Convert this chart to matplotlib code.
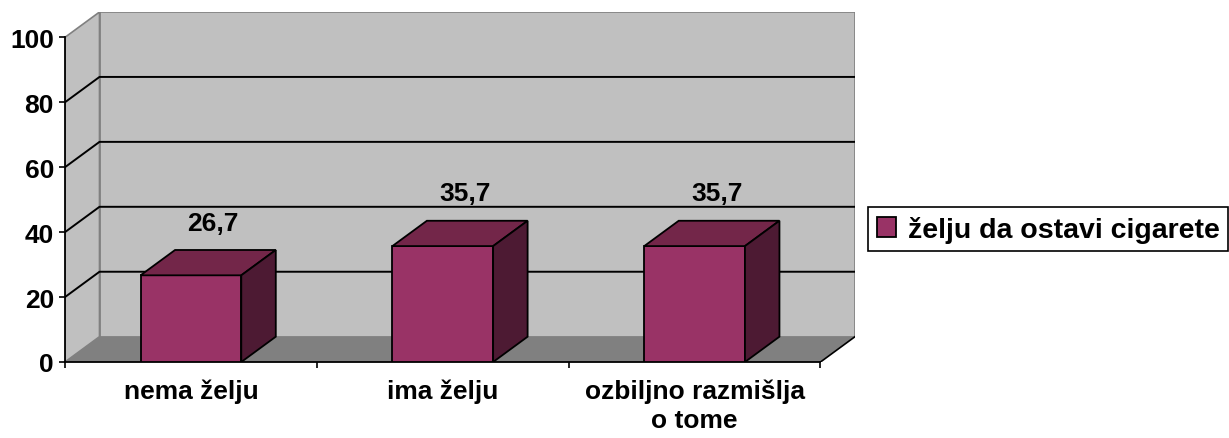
import matplotlib.pyplot as plt
from matplotlib.patches import Polygon

categories = ["nema želju", "ima želju", "ozbiljno razmišlja\no tome"]
values = [26.7, 35.7, 35.7]
value_labels = ["26,7", "35,7", "35,7"]
series_name = "želju da ostavi cigarete"
yticks = [0, 20, 40, 60, 80, 100]

plt.rcParams['font.family'] = ['Liberation Sans', 'DejaVu Sans']
plt.rcParams['font.weight'] = 'bold'
fs = 19

# depth of the 3d effect, in data units
dx = 0.137
dy = 7.8
half = 0.2
n = len(categories)

fig = plt.figure(figsize=(12.29, 4.39), dpi=100)
ax = fig.add_axes([65 / 1229, 76 / 439, 790 / 1229, 350 / 439])
ax.set_xlim(-0.5, n - 0.5 + dx)
ax.set_ylim(0, 100 + dy)
ax.patch.set_visible(False)

x0, x1 = -0.5, n - 0.5

# walls and floor
ax.add_patch(Polygon([(x0 + dx, dy), (x1 + dx, dy), (x1 + dx, 100 + dy), (x0 + dx, 100 + dy)],
                     facecolor='#c0c0c0', edgecolor='#808080', lw=1.2, zorder=0))
ax.add_patch(Polygon([(x0, 0), (x0 + dx, dy), (x0 + dx, 100 + dy), (x0, 100)],
                     facecolor='#c0c0c0', edgecolor='#808080', lw=1.2, zorder=0))
ax.add_patch(Polygon([(x0, 0), (x1, 0), (x1 + dx, dy), (x0 + dx, dy)],
                     facecolor='#808080', edgecolor='none', zorder=0.5))
ax.plot([x1, x1 + dx], [0, dy], color='black', lw=1.2, zorder=0.6)

# gridlines
for v in yticks[1:-1]:
    ax.plot([x0, x0 + dx, x1 + dx], [v, v + dy, v + dy], color='black', lw=1.4, zorder=1)

# bars
xs = list(range(n))
bars = ax.bar(xs, values, width=2 * half, color='#993366', edgecolor='black',
              lw=1.3, zorder=3, label=series_name)
for x, v, lab in zip(xs, values, value_labels):
    ax.add_patch(Polygon([(x - half, v), (x + half, v), (x + half + dx, v + dy), (x - half + dx, v + dy)],
                         facecolor='#732649', edgecolor='black', lw=1.3, zorder=3))
    ax.add_patch(Polygon([(x + half, 0), (x + half + dx, dy), (x + half + dx, v + dy), (x + half, v)],
                         facecolor='#4d1a33', edgecolor='black', lw=1.3, zorder=3))
    ax.annotate(lab, (x + dx / 2 + 0.02, v + dy), xytext=(0, 11), textcoords='offset points',
                ha='center', va='bottom', fontsize=fs, fontweight='bold')

# axes
for s in ['top', 'right']:
    ax.spines[s].set_visible(False)
ax.spines['left'].set_bounds(0, 100)
ax.spines['bottom'].set_bounds(x0, x1)
ax.spines['left'].set_linewidth(1.3)
ax.spines['bottom'].set_linewidth(1.3)
ax.set_yticks(yticks)
ax.set_yticklabels([str(t) for t in yticks], fontsize=fs, fontweight='bold')
ax.tick_params(axis='y', direction='out', length=4, width=1.2, pad=4)
ax.set_xticks([x0 + i for i in range(n + 1)])
ax.set_xticklabels([])
ax.tick_params(axis='x', which='major', direction='out', length=4, width=1.2)
ax.set_xticks(xs, minor=True)
ax.set_xticklabels(categories, minor=True, fontsize=fs, fontweight='bold', linespacing=1.25)
ax.tick_params(axis='x', which='minor', length=0, pad=12)

leg = fig.legend(handles=[bars], labels=[series_name], loc='upper left',
                 bbox_to_anchor=(868 / 1229, 1 - 208 / 439), bbox_transform=fig.transFigure,
                 fancybox=False, framealpha=1, edgecolor='black', borderaxespad=0,
                 borderpad=0.3, handlelength=0.7, handleheight=0.7, handletextpad=0.4,
                 prop={'size': 20.5, 'weight': 'bold'})
leg.get_frame().set_linewidth(1.2)

fig.savefig('out.png', dpi=100)
